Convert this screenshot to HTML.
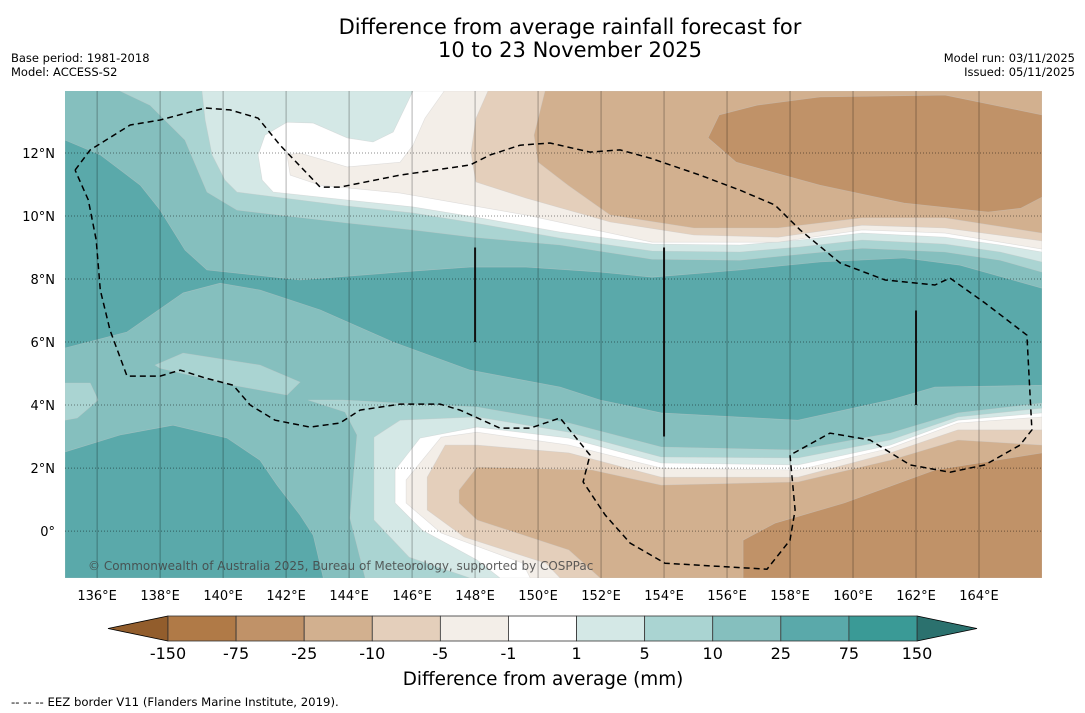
<!DOCTYPE html>
<html><head><meta charset="utf-8">
<style>
html,body{margin:0;padding:0;background:#fff;}
svg{display:block;font-family:"DejaVu Sans","Liberation Sans",sans-serif;}
</style></head>
<body>
<svg id="chart" width="1085" height="713" viewBox="0 0 1085 713" xmlns="http://www.w3.org/2000/svg">
<text x="570" y="34" text-anchor="middle" font-size="21" fill="#000">Difference from average rainfall forecast for</text>
<text x="570" y="57" text-anchor="middle" font-size="21" fill="#000">10 to 23 November 2025</text>
<text x="11" y="62" font-size="11.5">Base period: 1981-2018</text>
<text x="11" y="76" font-size="11.5">Model: ACCESS-S2</text>
<text x="1075" y="62" font-size="11.5" text-anchor="end">Model run: 03/11/2025</text>
<text x="1075" y="76" font-size="11.5" text-anchor="end">Issued: 05/11/2025</text>
<defs><clipPath id="mapclip"><rect x="65" y="91" width="977" height="487"/></clipPath></defs>
<g id="map" clip-path="url(#mapclip)"></g>
<g id="overlay"></g>
<g id="cbar"></g>
<text x="543" y="685" text-anchor="middle" font-size="18.4">Difference from average (mm)</text>
<text x="11" y="706" font-size="11.7">--  --  -- EEZ border V11 (Flanders Marine Institute, 2019).</text>
</svg>
<script>
const lonMin=134.98, lonMax=166.0, latMin=-1.49, latMax=13.97;
const lonTicks=[136,138,140,142,144,146,148,150,152,154,156,158,160,162,164];
const latTicks=[0,2,4,6,8,10,12];
const cbLabels=["-150","-75","-25","-10","-5","-1","1","5","10","25","75","150"];
const cbColors=["#b07a47","#c09268","#d2b08f","#e4cfbb","#f3eee8","#ffffff","#d4e8e6","#aad4d2","#85bfbe","#5aa9aa","#3a9a96"];
const baseColor="#85bfbe";
const band25a=[[134.98,12.41],[136.10,11.94],[137.37,10.98],[138.00,10.19],[138.79,8.92],[139.49,8.29],[142.44,7.97],[145.62,8.22],[147.84,8.38],[149.62,8.38],[151.97,8.22],[153.62,8.06],[156.41,8.29],[158.95,8.54],[161.62,8.67],[163.40,8.44],[166.00,7.71],[166.00,4.63],[162.60,4.57],[161.18,4.16],[158.25,3.52],[153.91,3.75],[151.97,4.16],[150.70,4.57],[147.84,5.11],[145.40,6.00],[143.08,7.02],[141.17,7.65],[139.90,7.87],[138.73,7.56],[136.95,6.32],[134.98,5.81]];
const band25b=[[134.98,2.51],[136.73,3.05],[138.41,3.36],[140.13,2.95],[141.17,2.25],[141.71,1.46],[142.44,0.51],[142.86,-0.13],[143.18,-1.49],[134.98,-1.49]];
const north5=[[136.73,13.97],[137.68,13.52],[138.79,12.41],[139.49,10.76],[140.44,10.19],[143.94,9.78],[146.03,9.56],[147.94,9.33],[150.70,9.08],[153.62,8.63],[156.41,8.60],[158.32,8.79],[160.29,8.98],[162.92,8.86],[164.67,8.60],[166.00,8.22],[166.00,13.97]];
const north1=[[139.33,13.97],[139.43,13.05],[139.65,11.94],[140.06,11.14],[140.44,10.76],[143.94,10.32],[146.03,10.10],[148.16,9.75],[150.70,9.30],[153.62,8.89],[156.41,8.86],[158.32,9.02],[160.29,9.24],[162.92,9.11],[164.67,8.86],[166.00,8.54],[166.00,13.97]];
const northWhite=[[146.03,13.97],[145.40,12.67],[144.76,12.35],[143.94,12.48],[142.86,12.95],[142.03,12.98],[141.33,12.57],[141.11,11.94],[141.24,11.14],[141.59,10.76],[143.94,10.51],[146.03,10.29],[148.16,9.94],[150.70,9.49],[153.62,9.11],[156.41,9.08],[158.32,9.24],[160.29,9.46],[162.92,9.33],[164.67,9.08],[166.00,8.86],[166.00,13.97]];
const northM5=[[147.02,13.97],[146.41,13.11],[146.03,12.25],[145.62,11.71],[143.94,11.56],[142.44,12.00],[142.03,11.94],[142.13,11.30],[143.08,10.98],[145.62,10.73],[149.62,10.03],[153.62,9.17],[157.62,9.17],[160.29,9.56],[162.92,9.46],[166.00,8.95],[166.00,13.97]];
const northM10=[[148.41,13.97],[148.03,13.11],[147.87,12.03],[147.94,11.56],[148.03,11.08],[149.62,10.57],[152.29,9.81],[154.95,9.40],[157.62,9.33],[160.29,9.71],[162.92,9.62],[166.00,9.21],[166.00,13.97]];
const northM25=[[150.22,13.97],[149.87,12.57],[150.00,11.71],[150.95,10.98],[152.29,10.03],[154.95,9.62],[157.62,9.62],[160.29,9.94],[162.92,9.94],[166.00,9.46],[166.00,13.97]];
const northM75=[[156.95,13.52],[158.95,13.78],[162.92,13.84],[166.00,13.21],[166.00,10.60],[165.33,10.25],[164.29,10.13],[161.62,10.41],[158.95,10.98],[156.29,11.71],[155.40,12.48],[155.75,13.21]];
const lens5=[[137.84,5.27],[138.73,5.65],[141.17,5.27],[142.44,4.73],[142.03,4.32],[140.32,4.63],[138.00,5.17]];
const edge5=[[134.98,4.70],[135.78,4.70],[136.03,4.16],[135.37,3.59],[134.98,3.52]];
const south5=[[142.70,4.16],[143.81,4.16],[145.62,4.06],[148.06,3.94],[150.98,3.43],[153.91,2.67],[158.25,2.57],[161.18,3.11],[163.33,3.75],[166.00,4.06],[166.00,-1.49],[144.51,-1.49],[144.03,0.41],[144.25,3.05],[143.87,3.78]];
const south1=[[144.79,2.98],[145.62,3.52],[148.06,3.62],[150.98,3.14],[153.91,2.35],[158.25,2.32],[161.18,2.89],[163.33,3.62],[166.00,3.90],[166.00,-1.49],[147.84,-1.49],[145.91,-0.83],[144.79,0.35]];
const southWhite=[[145.46,1.94],[146.25,2.95],[148.06,3.30],[150.98,2.95],[153.91,2.16],[158.25,2.10],[161.18,2.73],[163.33,3.52],[166.00,3.75],[166.00,-1.49],[148.79,-1.49],[148.06,-0.92],[146.32,0.03],[145.46,0.89]];
const southM5=[[145.81,1.62],[146.92,2.98],[148.06,3.14],[150.98,2.73],[153.91,2.00],[158.25,1.94],[161.18,2.63],[163.33,3.43],[166.00,3.62],[166.00,-1.49],[149.75,-1.49],[149.52,-1.02],[146.92,-0.06],[145.81,0.89]];
const southM10=[[146.48,1.71],[147.05,2.73],[148.06,2.73],[150.98,2.48],[153.91,1.71],[158.25,1.71],[161.18,2.48],[163.33,3.21],[166.00,3.21],[166.00,-1.49],[150.70,-1.49],[150.25,-1.02],[147.65,-0.19],[146.48,0.67]];
const southM25=[[147.49,1.30],[148.06,2.03],[151.72,1.94],[153.91,1.46],[158.25,1.56],[161.18,2.25],[163.33,2.89],[166.00,2.73],[166.00,-1.49],[151.97,-1.49],[150.98,-0.60],[148.06,0.35],[147.49,0.89]];
const southM75=[[156.51,-0.29],[157.52,0.25],[159.72,0.89],[162.60,1.94],[166.00,2.48],[166.00,-1.49],[156.51,-1.49]];
const eez=[[135.30,11.46],[135.78,12.10],[137.05,12.89],[138.00,13.05],[139.43,13.43],[140.22,13.37],[141.11,13.11],[141.81,12.25],[143.08,10.92],[143.71,10.92],[145.62,11.30],[147.84,11.62],[148.48,11.94],[149.43,12.25],[150.38,12.32],[151.65,12.03],[152.60,12.10],[153.56,11.84],[155.14,11.30],[156.41,10.82],[157.52,10.35],[158.32,9.56],[159.59,8.51],[161.02,7.97],[162.60,7.81],[163.08,8.03],[164.19,7.24],[165.52,6.22],[165.68,3.21],[165.30,2.73],[164.19,2.10],[163.08,1.87],[161.81,2.10],[160.54,2.89],[159.27,3.11],[158.00,2.41],[158.16,0.67],[158.00,-0.29],[157.27,-1.21],[154.03,-1.02],[152.92,-0.38],[152.13,0.51],[151.43,1.56],[151.65,2.41],[150.70,3.59],[149.75,3.27],[148.79,3.27],[147.52,3.84],[146.89,4.03],[145.62,4.03],[144.35,3.84],[143.71,3.43],[142.76,3.30],[141.65,3.52],[140.86,4.00],[140.32,4.63],[139.43,4.86],[138.64,5.11],[138.00,4.92],[136.95,4.92],[136.41,6.38],[136.10,7.65],[135.97,9.24],[135.72,10.51],[135.30,11.46]];
const blackLines=[[148,9,6],[154,9,3],[162,7,4]];

const NS="http://www.w3.org/2000/svg";
const X=lon=>65+(lon-lonMin)/(lonMax-lonMin)*977;
const Y=lat=>91+(latMax-lat)/(latMax-latMin)*487;
function mk(tag,attrs,parent){const e=document.createElementNS(NS,tag);for(const k in attrs)e.setAttribute(k,attrs[k]);parent.appendChild(e);return e;}
const pts=a=>a.map(p=>X(p[0]).toFixed(1)+","+Y(p[1]).toFixed(1)).join(" ");
const map=document.getElementById("map"), ov=document.getElementById("overlay"), cb=document.getElementById("cbar");

const bg=mk("rect",{x:65,y:91,width:977,height:487,fill:baseColor},map);


const layers=[["band-25-main",band25a,cbColors[9]],["band-25-southwest",band25b,cbColors[9]],["band-5-north",north5,cbColors[7]],["band-1-north",north1,cbColors[6]],["band-neutral-north",northWhite,cbColors[5]],["band-minus5-north",northM5,cbColors[4]],["band-minus10-north",northM10,cbColors[3]],["band-minus25-north",northM25,cbColors[2]],["band-minus75-north",northM75,cbColors[1]],["band-5-lens",lens5,cbColors[7]],["band-5-west-edge",edge5,cbColors[7]],["band-5-south",south5,cbColors[7]],["band-1-south",south1,cbColors[6]],["band-neutral-south",southWhite,cbColors[5]],["band-minus5-south",southM5,cbColors[4]],["band-minus10-south",southM10,cbColors[3]],["band-minus25-south",southM25,cbColors[2]],["band-minus75-south",southM75,cbColors[1]]];
layers.forEach(L=>{
  const p=mk("polygon",{points:pts(L[1]),fill:L[2],stroke:"#c8c8c8","stroke-width":0.6,"stroke-opacity":0.5},map);
  
  
});
lonTicks.forEach(lon=>{
  const l=mk("line",{x1:X(lon),x2:X(lon),y1:91,y2:578,stroke:"#000","stroke-opacity":0.3,"stroke-width":1},ov);
  
  
  const t=mk("text",{x:X(lon),y:600,"text-anchor":"middle","font-size":13},ov);
  t.textContent=lon+"°E";
  
  
});
latTicks.forEach(lat=>{
  const l=mk("line",{x1:65,x2:1042,y1:Y(lat),y2:Y(lat),stroke:"#000","stroke-opacity":0.45,"stroke-width":1,"stroke-dasharray":"1,2"},ov);
  
  
  const t=mk("text",{x:55,y:Y(lat)+5,"text-anchor":"end","font-size":13},ov);
  t.textContent=lat===0?"0°":lat+"°N";
  
  
});
blackLines.forEach(b=>{
  const l=mk("line",{x1:X(b[0]),x2:X(b[0]),y1:Y(b[1]),y2:Y(b[2]),stroke:"#111","stroke-width":2},ov);
  
  
});
const ez=mk("polyline",{points:pts(eez),fill:"none",stroke:"#000","stroke-width":1.5,"stroke-dasharray":"6,4"},ov);


const cp=mk("text",{x:88,y:570,"font-size":12,fill:"#444","fill-opacity":0.85},ov);
cp.textContent="© Commonwealth of Australia 2025, Bureau of Meteorology, supported by COSPPac";



const cx0=168, cx1=917, cy0=616, cy1=641, n=cbColors.length, w=(cx1-cx0)/n;
const lt=mk("polygon",{points:`108,${(cy0+cy1)/2} ${cx0},${cy0} ${cx0},${cy1}`,fill:"#925d2c",stroke:"#000","stroke-width":0.8},cb);


const rt=mk("polygon",{points:`977,${(cy0+cy1)/2} ${cx1},${cy0} ${cx1},${cy1}`,fill:"#2b716e",stroke:"#000","stroke-width":0.8},cb);


cbColors.forEach((c,i)=>{
  const r=mk("rect",{x:cx0+i*w,y:cy0,width:w,height:cy1-cy0,fill:c,stroke:"#333","stroke-width":0.8},cb);
  
  
});
cbLabels.forEach((s,i)=>{
  const t=mk("text",{x:cx0+i*w,y:659,"text-anchor":"middle","font-size":16},cb);
  t.textContent=s;
  
  
});
</script>
</body></html>
